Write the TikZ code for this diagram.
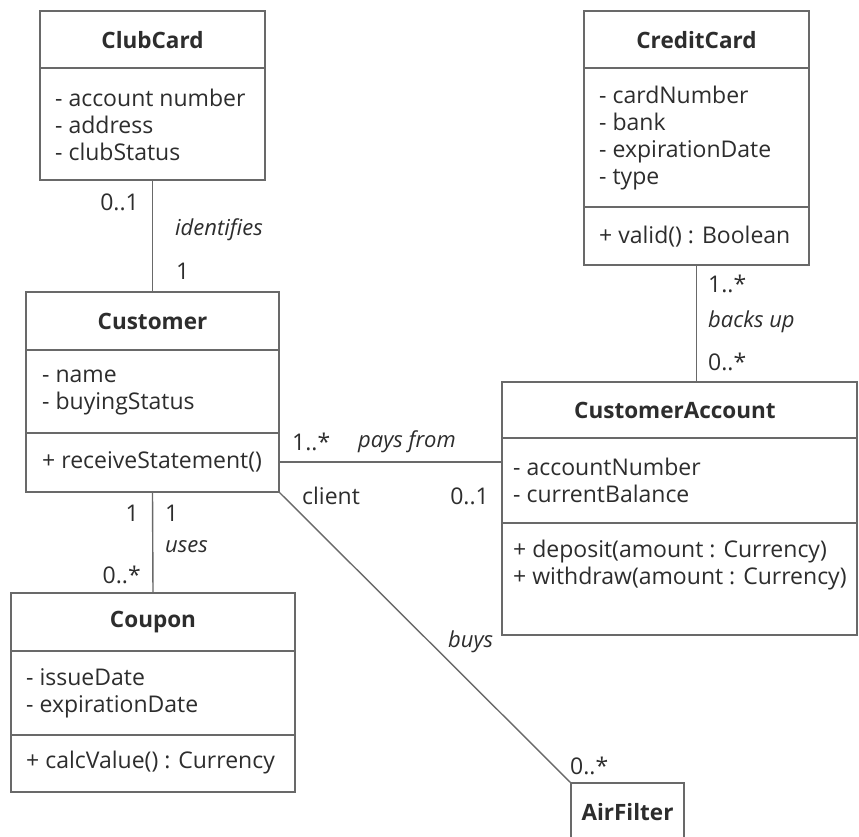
\documentclass[tikz,border=0pt]{standalone}
\usepackage{fontspec}
\setmainfont{Open Sans}
\definecolor{linecol}{RGB}{105,105,105}
\definecolor{txtcol}{RGB}{45,45,45}
\begin{document}
\begin{tikzpicture}[x=1pt,y=-1pt,
  classbox/.style={draw=linecol, line width=1.6pt, fill=white, rectangle, inner sep=0pt, outer sep=0pt, anchor=north west},
  sepline/.style={draw=linecol, line width=1.6pt},
  conn/.style={draw=linecol, line width=1.4pt},
  title/.style={font=\fontsize{22.5}{27}\selectfont\bfseries, text=txtcol, inner sep=0pt},
  attr/.style={font=\fontsize{23}{27}\selectfont, text=txtcol, inner sep=0pt, align=left, anchor=west},
  lbl/.style={font=\fontsize{23}{27}\selectfont, text=txtcol, inner sep=0pt},
  role/.style={font=\fontsize{22}{27}\selectfont\itshape, text=txtcol, inner sep=0pt}]
\useasboundingbox (0,0) rectangle (859,836);
\clip (0,0) rectangle (859,836);
\fill[white] (0,0) rectangle (859,836);

% ClubCard
\node[classbox, minimum width=225pt, minimum height=169pt] (club) at (40,11) {};
\draw[sepline] ([yshift=-57pt]club.north west) -- ([yshift=-57pt]club.north east);
\node[title] (clubT) at (152.5,40) {ClubCard};
\node[attr] (clubA) at (55,125) {- account number\\- address\\- clubStatus};

% CreditCard
\node[classbox, minimum width=225pt, minimum height=254pt] (credit) at (584,11) {};
\draw[sepline] ([yshift=-57pt]credit.north west) -- ([yshift=-57pt]credit.north east);
\draw[sepline] ([yshift=-196pt]credit.north west) -- ([yshift=-196pt]credit.north east);
\node[title] (creditT) at (696.5,40) {CreditCard};
\node[attr] (creditA) at (599,138.5) {- cardNumber\\- bank\\- expirationDate\\- type};
\node[attr] (creditO) at (599,237) {+ valid() : Boolean};

% Customer
\node[classbox, minimum width=253pt, minimum height=200pt] (cust) at (26,292) {};
\draw[sepline] ([yshift=-58pt]cust.north west) -- ([yshift=-58pt]cust.north east);
\draw[sepline] ([yshift=-141pt]cust.north west) -- ([yshift=-141pt]cust.north east);
\node[title] (custT) at (152.5,321) {Customer};
\node[attr] (custA) at (42,392.5) {- name\\- buyingStatus};
\node[attr] (custO) at (42,462) {+ receiveStatement()};

% CustomerAccount
\node[classbox, minimum width=355pt, minimum height=253pt] (acct) at (502,382) {};
\draw[sepline] ([yshift=-56pt]acct.north west) -- ([yshift=-56pt]acct.north east);
\draw[sepline] ([yshift=-141pt]acct.north west) -- ([yshift=-141pt]acct.north east);
\node[title] (acctT) at (675,410) {CustomerAccount};
\node[attr] (acctA) at (513,480.5) {- accountNumber\\- currentBalance};
\node[attr] (acctO) at (513,565) {+ deposit(amount : Currency)\\+ withdraw(amount : Currency)};

% Coupon
\node[classbox, minimum width=284pt, minimum height=199pt] (coupon) at (11,593) {};
\draw[sepline] ([yshift=-58pt]coupon.north west) -- ([yshift=-58pt]coupon.north east);
\draw[sepline] ([yshift=-142pt]coupon.north west) -- ([yshift=-142pt]coupon.north east);
\node[title] (couponT) at (153,622) {Coupon};
\node[attr] (couponA) at (26,693.5) {- issueDate\\- expirationDate};
\node[attr] (couponO) at (26,763) {+ calcValue() : Currency};

% AirFilter
\node[classbox, minimum width=113pt, minimum height=80pt] (air) at (571,783) {};
\node[title] (airT) at (627.5,812) {AirFilter};

% connectors
\draw[conn] (club.south) -- (cust.north);
\draw[conn] (credit.south) -- (credit.south |- acct.north);
\draw[conn] ([yshift=30pt]cust.south east) -- ([yshift=30pt]cust.south east -| acct.west);
\draw[conn] (cust.south) -- (coupon.north);
\draw[conn] (cust.south east) -- (air.north west);

% labels
\node[lbl, anchor=east] (l1) at (139,202) {0..1};
\node[role, anchor=west] (l2) at (175,230) {identifies};
\node[lbl, anchor=west] (l3) at (176,271) {1};
\node[lbl, anchor=west] (l4) at (708,284) {1..*};
\node[role, anchor=west] (l5) at (708,322) {backs up};
\node[lbl, anchor=west] (l6) at (708,362) {0..*};
\node[lbl, anchor=west] (l7) at (292,442) {1..*};
\node[role, anchor=west] (l8) at (358,442) {pays from};
\node[lbl, anchor=west] (l9) at (302,496) {client};
\node[lbl, anchor=east] (l10) at (489,496) {0..1};
\node[lbl, anchor=east] (l11) at (139,513) {1};
\node[lbl, anchor=west] (l12) at (165,513) {1};
\node[role, anchor=west] (l13) at (165,547) {uses};
\node[lbl, anchor=east] (l14) at (141,575) {0..*};
\node[role, anchor=west] (l15) at (448,642) {buys};
\node[lbl, anchor=west] (l16) at (570,766) {0..*};
\end{tikzpicture}
\end{document}
